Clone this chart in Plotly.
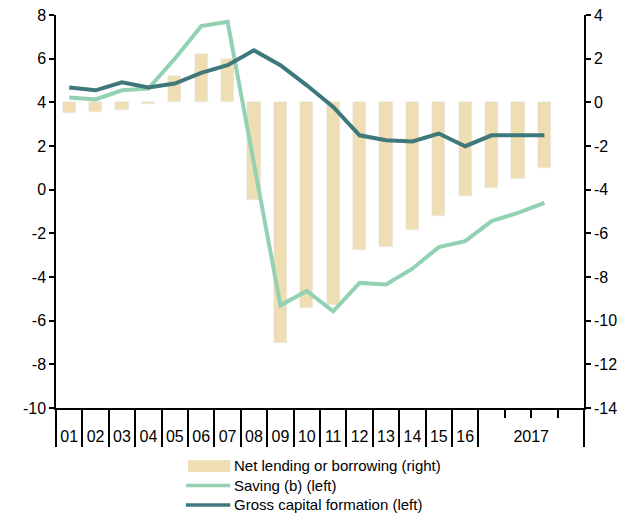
import plotly.graph_objects as go

# periods: 2001-2016 yearly, then first three quarters of 2017
periods = ["01", "02", "03", "04", "05", "06", "07", "08", "09", "10",
           "11", "12", "13", "14", "15", "16", "17Q1", "17Q2", "17Q3"]
tick_labels = ["01", "02", "03", "04", "05", "06", "07", "08", "09", "10",
               "11", "12", "13", "14", "15", "16", "2017"]
tick_pos = list(range(16)) + [17.5]
boundaries = [i - 0.5 for i in range(17)] + [19.5]
quarter_marks = [16.5, 17.5, 18.5]
left_ticks = [-10, -8, -6, -4, -2, 0, 2, 4, 6, 8]
right_ticks = [-14, -12, -10, -8, -6, -4, -2, 0, 2, 4]

net_lending = [-0.5, -0.43, -0.34, -0.08, 1.22, 2.2, 2.0, -4.48, -11.0, -9.42,
               -9.3, -6.78, -6.62, -5.84, -5.2, -4.28, -3.92, -3.49, -3.0]
saving = [4.22, 4.13, 4.55, 4.63, 6.0, 7.49, 7.69, 1.1, -5.3, -4.64,
          -5.57, -4.27, -4.34, -3.62, -2.63, -2.36, -1.44, -1.06, -0.6]
gross_cap = [4.68, 4.55, 4.92, 4.68, 4.86, 5.35, 5.70, 6.38, 5.70, 4.78,
             3.79, 2.49, 2.26, 2.21, 2.57, 1.99, 2.49, 2.49, 2.49]

names = ["Net lending or borrowing (right)", "Saving (b) (left)",
         "Gross capital formation (left)"]
BAR_C = "#EFDDB3"
SAV_C = "#93D1B3"
GCF_C = "#3F787B"
FONT = "Arial, Liberation Sans, sans-serif"

x = list(range(len(periods)))

fig = go.Figure()
# bars on the base axis (drawn on the right), lines on the overlay (left) so they sit on top
fig.add_trace(go.Bar(x=x, y=net_lending, width=0.5, marker_color=BAR_C,
                     name=names[0], showlegend=False, xaxis="x", yaxis="y"))
fig.add_trace(go.Scatter(x=x, y=saving, mode="lines", line=dict(color=SAV_C, width=4),
                         name=names[1], showlegend=False, xaxis="x", yaxis="y2"))
fig.add_trace(go.Scatter(x=x, y=gross_cap, mode="lines", line=dict(color=GCF_C, width=4),
                         name=names[2], showlegend=False, xaxis="x", yaxis="y2"))
# empty trace so the separator axis (x2) gets drawn
fig.add_trace(go.Scatter(x=[], y=[], xaxis="x2", yaxis="y", showlegend=False,
                         hoverinfo="skip"))

axis_common = dict(showgrid=False, zeroline=False, showline=True, linecolor="black",
                   linewidth=1.5, ticks="outside", ticklen=5, tickwidth=1.5,
                   tickcolor="black", ticklabeloverflow="allow", automargin=False,
                   tickmode="array",
                   tickfont=dict(family=FONT, size=16, color="black"))

# page body has an 8px margin, so the figure is 8px smaller than the window
fig.update_layout(
    width=625, height=508,
    margin=dict(l=48, r=49, t=7, b=108),
    plot_bgcolor="white", paper_bgcolor="white",
    bargap=0,
    xaxis=dict(range=[-0.5, 19.5], tickmode="array", tickvals=tick_pos, ticktext=tick_labels,
               ticks="", showgrid=False, zeroline=False, showline=True, linecolor="black",
               linewidth=1.5, ticklabelstandoff=13, automargin=False,
               tickfont=dict(family=FONT, size=16, color="black")),
    xaxis2=dict(range=[-0.5, 19.5], overlaying="x", anchor="y", side="bottom",
                tickmode="array", tickvals=boundaries, ticks="outside", ticklen=38,
                tickwidth=1.5, tickcolor="black", showticklabels=False, automargin=False,
                showgrid=False, zeroline=False, showline=False,
                minor=dict(tickmode="array", tickvals=quarter_marks, ticks="outside",
                           ticklen=9, tickwidth=1.5, tickcolor="black", showgrid=False)),
    yaxis=dict(range=[-14, 4], side="right", tickvals=right_ticks,
               ticktext=[str(v) for v in right_ticks], **axis_common),
    yaxis2=dict(range=[-10, 8], side="left", overlaying="y", anchor="x",
                tickvals=left_ticks, ticktext=[str(v) for v in left_ticks], **axis_common),
)

# legend drawn by hand to reproduce the wide swatches
leg_x0, leg_x1, txt_x = 0.25, 0.33, 0.3335
rows = [-0.148, -0.1975, -0.247]
fig.add_shape(type="rect", xref="paper", yref="paper", x0=leg_x0, x1=leg_x1,
              y0=rows[0] - 0.015, y1=rows[0] + 0.015, fillcolor=BAR_C, line_width=0)
for r, c in zip(rows[1:], [SAV_C, GCF_C]):
    fig.add_shape(type="line", xref="paper", yref="paper", x0=leg_x0 - 0.004, x1=leg_x1,
                  y0=r, y1=r, line=dict(color=c, width=3.5))
fig.add_annotation(xref="paper", yref="paper", x=txt_x, y=rows[0] + 0.028,
                   text="<br>".join(names), showarrow=False, align="left",
                   xanchor="left", yanchor="top",
                   font=dict(family=FONT, size=15, color="black"))

fig.write_html("out.html")
